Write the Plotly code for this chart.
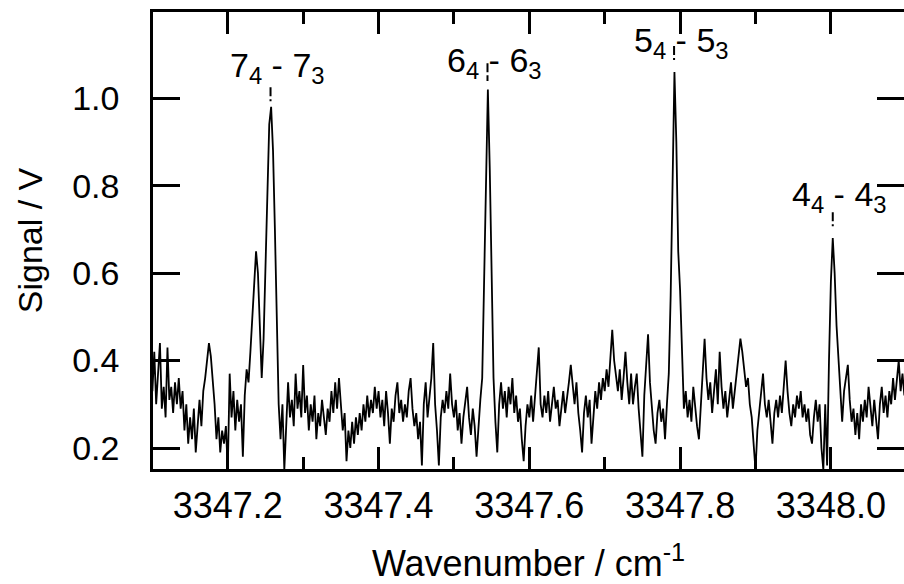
import plotly.graph_objects as go

# ---- data ----
wn_start = 3347.1
wn_step = 0.0025
signal = [
    0.33, 0.42, 0.30, 0.36, 0.44, 0.29, 0.34, 0.27, 0.43, 0.31,
    0.34, 0.28, 0.35, 0.30, 0.36, 0.29, 0.33, 0.24, 0.30, 0.21,
    0.27, 0.22, 0.29, 0.19, 0.26, 0.31, 0.25, 0.33, 0.36, 0.40,
    0.44, 0.41, 0.36, 0.30, 0.22, 0.27, 0.19, 0.24, 0.21, 0.25,
    0.15, 0.37, 0.27, 0.33, 0.24, 0.31, 0.26, 0.30, 0.18, 0.32,
    0.38, 0.35, 0.42, 0.50, 0.60, 0.65, 0.60, 0.47, 0.36, 0.45,
    0.62, 0.80, 0.94, 0.98, 0.88, 0.70, 0.48, 0.30, 0.22, 0.30,
    0.15, 0.26, 0.35, 0.27, 0.31, 0.25, 0.37, 0.29, 0.33, 0.27,
    0.39, 0.28, 0.32, 0.24, 0.30, 0.26, 0.32, 0.22, 0.28, 0.25,
    0.31, 0.27, 0.23, 0.29, 0.26, 0.33, 0.28, 0.35, 0.29, 0.36,
    0.30, 0.24, 0.28, 0.17, 0.24, 0.20, 0.26, 0.21, 0.27, 0.23,
    0.28, 0.24, 0.30, 0.26, 0.32, 0.27, 0.31, 0.28, 0.34, 0.29,
    0.33, 0.27, 0.31, 0.25, 0.33, 0.28, 0.21, 0.29, 0.26, 0.32,
    0.35, 0.28, 0.31, 0.26, 0.30, 0.27, 0.33, 0.36, 0.29, 0.25,
    0.28, 0.22, 0.26, 0.16, 0.30, 0.35, 0.27, 0.32, 0.36, 0.44,
    0.30, 0.24, 0.16, 0.27, 0.31, 0.28, 0.33, 0.29, 0.37, 0.30,
    0.27, 0.31, 0.24, 0.28, 0.21, 0.27, 0.30, 0.34, 0.27, 0.23,
    0.29, 0.25, 0.18, 0.26, 0.31, 0.36, 0.58, 0.86, 1.02, 0.84,
    0.57, 0.36, 0.26, 0.19, 0.30, 0.35, 0.29, 0.33, 0.27, 0.34,
    0.30, 0.36, 0.28, 0.32, 0.26, 0.29, 0.22, 0.17, 0.25, 0.30,
    0.27, 0.32, 0.26, 0.31, 0.37, 0.43, 0.30, 0.27, 0.32, 0.28,
    0.33, 0.26, 0.30, 0.34, 0.29, 0.31, 0.25, 0.29, 0.33, 0.28,
    0.31, 0.35, 0.39, 0.34, 0.30, 0.35, 0.28, 0.24, 0.19, 0.28,
    0.32, 0.27, 0.31, 0.21, 0.27, 0.33, 0.29, 0.35, 0.31, 0.36,
    0.33, 0.38, 0.34, 0.41, 0.47, 0.40, 0.36, 0.33, 0.38, 0.31,
    0.36, 0.42, 0.35, 0.30, 0.37, 0.30, 0.34, 0.37, 0.29, 0.24,
    0.18, 0.32, 0.40, 0.46, 0.35, 0.29, 0.24, 0.21, 0.28, 0.31,
    0.26, 0.29, 0.22, 0.30, 0.37, 0.55, 0.86, 1.06, 0.90, 0.65,
    0.56, 0.40, 0.29, 0.33, 0.27, 0.31, 0.26, 0.34, 0.29, 0.25,
    0.22, 0.30, 0.38, 0.45, 0.36, 0.31, 0.35, 0.28, 0.33, 0.38,
    0.30, 0.42, 0.34, 0.29, 0.33, 0.27, 0.31, 0.35, 0.29, 0.33,
    0.37, 0.40, 0.45, 0.42, 0.38, 0.34, 0.36, 0.30, 0.27, 0.22,
    0.15, 0.24, 0.28, 0.33, 0.37, 0.30, 0.27, 0.31, 0.25, 0.21,
    0.28, 0.31, 0.27, 0.32, 0.28, 0.34, 0.40, 0.33, 0.28, 0.25,
    0.30, 0.27, 0.32, 0.29, 0.33, 0.27, 0.30, 0.26, 0.29, 0.23,
    0.21, 0.27, 0.31, 0.26, 0.30, 0.20, 0.15, 0.30, 0.16, 0.40,
    0.58, 0.68, 0.60, 0.48, 0.40, 0.32, 0.26, 0.33, 0.36, 0.39,
    0.31, 0.26, 0.29, 0.23, 0.28, 0.22, 0.30, 0.26, 0.31, 0.27,
    0.34, 0.29, 0.25, 0.31, 0.27, 0.22, 0.30, 0.34, 0.28, 0.32,
    0.27, 0.33, 0.30, 0.36, 0.31, 0.35, 0.40, 0.33, 0.37, 0.32,
]
wavenumber = [wn_start + wn_step * i for i in range(len(signal))]

x_tick_vals = [3347.2, 3347.4, 3347.6, 3347.8, 3348.0]
x_tick_text = ["3347.2", "3347.4", "3347.6", "3347.8", "3348.0"]
x_minor_vals = [3347.3, 3347.5, 3347.7, 3347.9]
y_tick_vals = [0.2, 0.4, 0.6, 0.8, 1.0]
y_tick_text = ["0.2", "0.4", "0.6", "0.8", "1.0"]

# peak assignment labels
label_text = ["7<sub>4</sub> - 7<sub>3</sub>", "6<sub>4</sub> - 6<sub>3</sub>",
              "5<sub>4</sub> - 5<sub>3</sub>", "4<sub>4</sub> - 4<sub>3</sub>"]
label_peak_x = [3347.2567, 3347.5445, 3347.7920, 3348.0025]
label_y = [1.069, 1.081, 1.127, 0.774]
marker_top = [1.025, 1.080, 1.119, 0.739]
marker_bottom = [0.993, 1.039, 1.087, 0.707]

FONT = "Liberation Sans, Arial, sans-serif"

fig = go.Figure()
fig.add_trace(go.Scatter(x=wavenumber, y=signal, mode="lines",
                         line=dict(color="black", width=1.8),
                         showlegend=False, hoverinfo="skip"))

for t, px_, ly, y0, y1 in zip(label_text, label_peak_x, label_y, marker_top, marker_bottom):
    fig.add_annotation(x=px_, y=ly, text=t, showarrow=False, xanchor="center",
                       yanchor="middle", xshift=7, yshift=0,
                       font=dict(family=FONT, size=34, color="black"))
    fig.add_shape(type="line", x0=px_, x1=px_, y0=y0, y1=y1,
                  line=dict(color="black", width=2, dash="9px,3px"))

axis_common = dict(showline=True, linewidth=2.5, linecolor="black", mirror="ticks",
                   ticks="inside", tickwidth=2.5, tickcolor="black",
                   showgrid=False, zeroline=False)

fig.update_xaxes(range=[3347.1008, 3348.097], tickmode="array",
                 tickvals=x_tick_vals, ticktext=x_tick_text, ticklen=22,
                 minor=dict(tickmode="array", tickvals=x_minor_vals, ticks="inside",
                            ticklen=12, tickwidth=2.5, tickcolor="black"),
                 ticklabelstandoff=3,
                 tickfont=dict(family=FONT, size=36, color="black"),
                 title=dict(text="Wavenumber / cm<sup>-1</sup>", standoff=35,
                            font=dict(family=FONT, size=36, color="black")),
                 **axis_common)
fig.update_yaxes(range=[0.152, 1.197], tickmode="array",
                 tickvals=y_tick_vals, ticktext=y_tick_text, ticklen=27,
                 ticklabelstandoff=24,
                 tickfont=dict(family=FONT, size=34, color="black"),
                 title=dict(text="Signal / V", standoff=20,
                            font=dict(family=FONT, size=34, color="black")),
                 **axis_common)

fig.update_layout(width=904, height=584,
                  margin=dict(l=153, r=0, t=12, b=115, autoexpand=False),
                  paper_bgcolor="white", plot_bgcolor="white",
                  font=dict(family=FONT, color="black"))

fig.write_html("out.html")
